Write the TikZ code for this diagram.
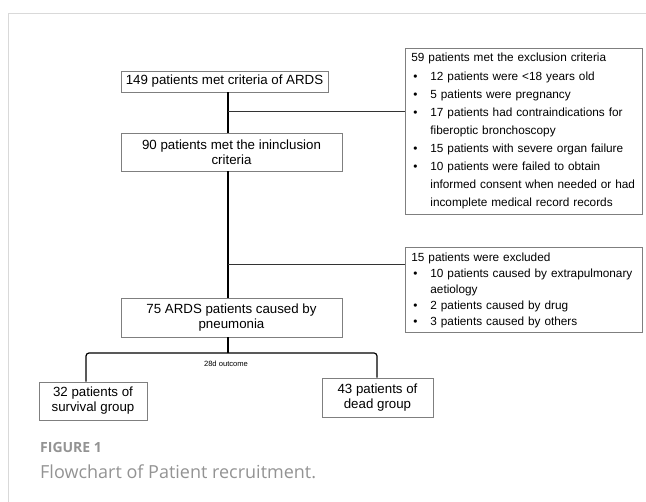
\documentclass[tikz,border=0pt]{standalone}
\usepackage{fontspec}
\setmainfont{Liberation Sans}
\newfontfamily\capfont{Open Sans}
\usepackage{tikz}
\usetikzlibrary{positioning}
\definecolor{boxgray}{HTML}{7F7F7F}
\definecolor{framegray}{HTML}{D9D9D9}
\definecolor{capgray}{HTML}{939393}
\newcommand{\bitem}[1]{\par\hangindent=19pt\hangafter=1\noindent\hspace*{2pt}\makebox[17pt][l]{\textbullet}#1}

\begin{document}
\begin{tikzpicture}[x=1pt,y=-1pt,
    box/.style={draw=boxgray, line width=0.8pt, align=center, inner sep=0pt,
        font=\fontsize{13.3}{15}\selectfont},
    sidebox/.style={draw=boxgray, line width=0.8pt, anchor=north west, inner xsep=6pt,
        inner ysep=5pt, text width=225pt, align=left, font=\fontsize{11.8}{18.1}\selectfont},
    spine/.style={line width=1.4pt},
    branch/.style={line width=1pt, draw=black!80}]
        \useasboundingbox (0,0) rectangle (646,502);
        % Frame
        \draw[framegray, line width=1pt] (8.5,502) |- (646,13.5);

        % Main boxes
        \node[box, minimum width=207pt, minimum height=21pt] (ards) at (224.5,81.5) {149 patients met criteria of ARDS};
        \node[box, minimum width=221pt, minimum height=38pt] (incl) at (231.5,152) {90 patients met the ininclusion\\criteria};
        \node[box, minimum width=221pt, minimum height=39pt] (pneu) at (231.5,317.5) {75 ARDS patients caused by\\pneumonia};
        \node[box, minimum width=108pt, minimum height=38pt] (surv) at (93,401) {32 patients of\\survival group};
        \node[box, minimum width=111pt, minimum height=39pt] (dead) at (377.5,397.5) {43 patients of\\dead group};

        % Exclusion boxes
        \node[sidebox] (excl) at (405,48) {59 patients met the exclusion criteria
            \bitem{12 patients were <18 years old}
            \bitem{5 patients were pregnancy}
            \bitem{17 patients had contraindications for\newline fiberoptic bronchoscopy}
            \bitem{15 patients with severe organ failure}
            \bitem{10 patients were failed to obtain\newline informed consent when needed or had\newline incomplete medical record records}\par};
        \node[sidebox, font=\fontsize{11.8}{16}\selectfont] (excl2) at (405,247.5) {15 patients were excluded
            \bitem{10 patients caused by extrapulmonary\newline aetiology}
            \bitem{2 patients caused by drug}
            \bitem{3 patients caused by others}\par};

        % Joints
        \coordinate (j1) at (228,112);
        \coordinate (j2) at (228,265);
        \coordinate (split) at (228,353);
        \coordinate (legL) at (86,382);
        \coordinate (legR) at (377,378);

        % Connectors
        \draw[spine] (ards.south -| j1) -- (incl.north -| j1);
        \draw[spine] (incl.south -| j1) -- (pneu.north -| j1);
        \draw[branch] (j1) -- (j1 -| excl.west);
        \draw[branch] (j2) -- (j2 -| excl2.west);
        \draw[spine] (pneu.south -| split) -- (split);
        \draw[line width=1.2pt, rounded corners=3pt] (surv.north -| legL) |- (split) -| (dead.north -| legR);
        \node[font=\fontsize{7.6}{9}\selectfont] (outc) at (226,364) {28d outcome};

        % Caption
        \node[anchor=base west, inner sep=0pt, text=capgray, font=\capfont\bfseries\fontsize{14}{16}\selectfont] (fig) at (40,453) {FIGURE 1};
        \node[anchor=base west, inner sep=0pt, text=capgray, font=\capfont\fontsize{18}{21}\selectfont] (cap) at (40,479) {Flowchart of Patient recruitment.};
    \end{tikzpicture}
\end{document}
